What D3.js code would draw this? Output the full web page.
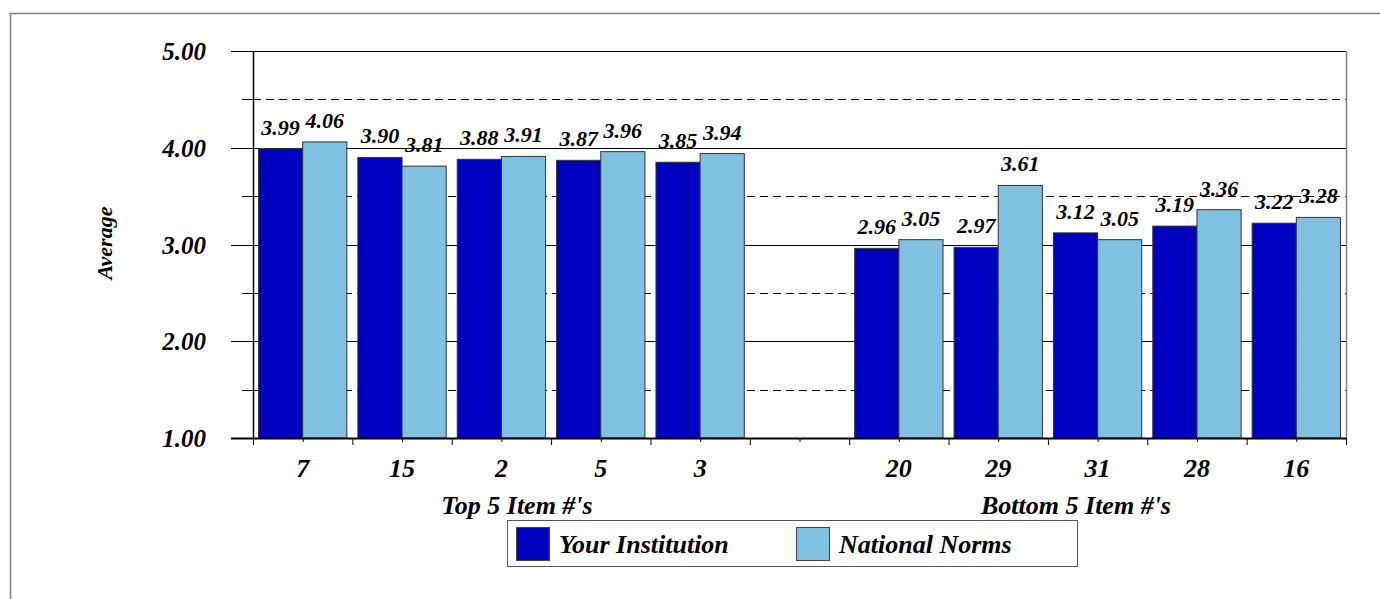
<!DOCTYPE html>
<html><head><meta charset="utf-8">
<script src="https://cdn.jsdelivr.net/npm/d3@7"></script>
<style>
html,body{margin:0;padding:0;background:#fff;}
svg{display:block;}
</style></head>
<body>
<script>
const categories = ["7","15","2","5","3","","20","29","31","28","16"];
const yourInstitution = [3.99,3.90,3.88,3.87,3.85,null,2.96,2.97,3.12,3.19,3.22];
const nationalNorms   = [4.06,3.81,3.91,3.96,3.94,null,3.05,3.61,3.05,3.36,3.28];
const seriesNames = ["Your Institution","National Norms"];
const seriesColors = ["#0000c0","#80c0e0"];
const yTicks = [1,2,3,4,5];
const yMinor = [1.5,2.5,3.5,4.5];
const groupLabels = ["Top 5 Item #'s","Bottom 5 Item #'s"];
const yTitle = "Average";

(function(){
const W = 1380, H = 599;
const FONT = "Liberation Serif";
const svg = d3.select("body").append("svg").attr("width",W).attr("height",H);
function styleText(sel, size){
  return sel.attr("font-family",FONT).attr("font-weight","bold").attr("font-style","italic")
    .attr("font-size",size).attr("fill","#000");
}

// outer frame
svg.append("rect").attr("x",10.5).attr("y",13.5).attr("width",W).attr("height",H)
  .attr("fill","none").attr("stroke","#808080").attr("stroke-width",1.5);

const pL = 253, pR = 1346, pT = 51, pB = 438;
const x = d3.scaleBand().domain(d3.range(categories.length)).range([pL,pR]).padding(0);
const y = d3.scaleLinear().domain([1,5]).range([pB,pT]);
const bw = x.bandwidth();
const inner = d3.scaleBand().domain([0,1]).range([0,bw]).paddingInner(0).paddingOuter(0.125);

const g = svg.append("g");

// minor dashed gridlines
g.selectAll("line.minor").data(yMinor).join("line")
  .attr("x1",pL).attr("x2",pR).attr("y1",d=>Math.round(y(d))+0.5).attr("y2",d=>Math.round(y(d))+0.5)
  .attr("stroke","#000").attr("stroke-width",1).attr("stroke-dasharray","8,5");
g.selectAll("line.minort").data(yMinor).join("line")
  .attr("x1",pL-11).attr("x2",pL+8).attr("y1",d=>Math.round(y(d))+0.5).attr("y2",d=>Math.round(y(d))+0.5)
  .attr("stroke","#000").attr("stroke-width",1);
// major gridlines
g.selectAll("line.major").data(yTicks).join("line")
  .attr("x1",pL-22).attr("x2",pR).attr("y1",d=>Math.round(y(d))+0.5).attr("y2",d=>Math.round(y(d))+0.5)
  .attr("stroke","#000").attr("stroke-width",1);

// right border
g.append("line").attr("x1",pR+0.5).attr("x2",pR+0.5).attr("y1",pT).attr("y2",pB)
  .attr("stroke","#808080").attr("stroke-width",1.5);

// bars
const seriesData = [yourInstitution, nationalNorms];
seriesData.forEach((vals,si)=>{
  const bars = vals.map((v,i)=>({v,i})).filter(d=>d.v!=null);
  g.selectAll("rect.s"+si).data(bars).join("rect")
    .attr("x",d=>x(d.i)+inner(si)).attr("width",inner.bandwidth())
    .attr("y",d=>y(d.v)).attr("height",d=>y(1)-y(d.v))
    .attr("fill",seriesColors[si]).attr("stroke","#333").attr("stroke-width",1);
  styleText(g.selectAll("text.s"+si).data(bars).join("text"), 22)
    .attr("x",d=>x(d.i)+inner(si)+inner.bandwidth()/2).attr("y",d=>y(d.v)-14)
    .attr("text-anchor","middle")
    .text(d=>d.v.toFixed(2));
});

// axes lines
g.append("line").attr("x1",pL+0.5).attr("x2",pL+0.5).attr("y1",pT).attr("y2",pB)
  .attr("stroke","#000").attr("stroke-width",1.5);
g.append("line").attr("x1",pL-22).attr("x2",pR).attr("y1",pB+0.5).attr("y2",pB+0.5)
  .attr("stroke","#000").attr("stroke-width",2);

// x ticks at boundaries
const bounds = d3.range(categories.length+1).map(i=> i<categories.length ? x(i) : pR);
g.selectAll("line.xt").data(bounds).join("line")
  .attr("x1",d=>d+0.5).attr("x2",d=>d+0.5).attr("y1",pB).attr("y2",pB+7)
  .attr("stroke","#000").attr("stroke-width",1);
g.selectAll("line.xc").data(d3.range(categories.length)).join("line")
  .attr("x1",d=>x(d)+bw/2+0.5).attr("x2",d=>x(d)+bw/2+0.5).attr("y1",pB).attr("y2",pB+4)
  .attr("stroke","#000").attr("stroke-width",1);

// x tick labels
styleText(g.selectAll("text.xl").data(categories.map((c,i)=>({c,i}))).join("text"), 26)
  .attr("x",d=>x(d.i)+bw/2).attr("y",477).attr("text-anchor","middle")
  .text(d=>d.c);

// group labels
const groupCenters = [517, 1076];
styleText(g.selectAll("text.gl").data(groupLabels).join("text"), 26)
  .attr("x",(d,i)=>groupCenters[i]).attr("y",514).attr("text-anchor","middle")
  .text(d=>d);

// y tick labels
styleText(g.selectAll("text.yl").data(yTicks).join("text"), 25)
  .attr("x",206).attr("y",d=>y(d)+9).attr("text-anchor","end")
  .text(d=>d.toFixed(2));

// y title
styleText(svg.append("text"), 22).attr("transform","translate(112,243) rotate(-90)")
  .attr("text-anchor","middle").text(yTitle);

// legend
const lg = svg.append("g");
lg.append("rect").attr("x",507.5).attr("y",520.5).attr("width",570).attr("height",46)
  .attr("fill","#fff").attr("stroke","#555").attr("stroke-width",1);
const legX = [516, 796];
seriesNames.forEach((n,i)=>{
  lg.append("rect").attr("x",legX[i]+0.5).attr("y",527.5).attr("width",33).attr("height",33)
    .attr("fill",seriesColors[i]).attr("stroke","#444").attr("stroke-width",1);
  styleText(lg.append("text"), 26).attr("x",legX[i]+43).attr("y",553).text(n);
});
})();
</script>
</body></html>
